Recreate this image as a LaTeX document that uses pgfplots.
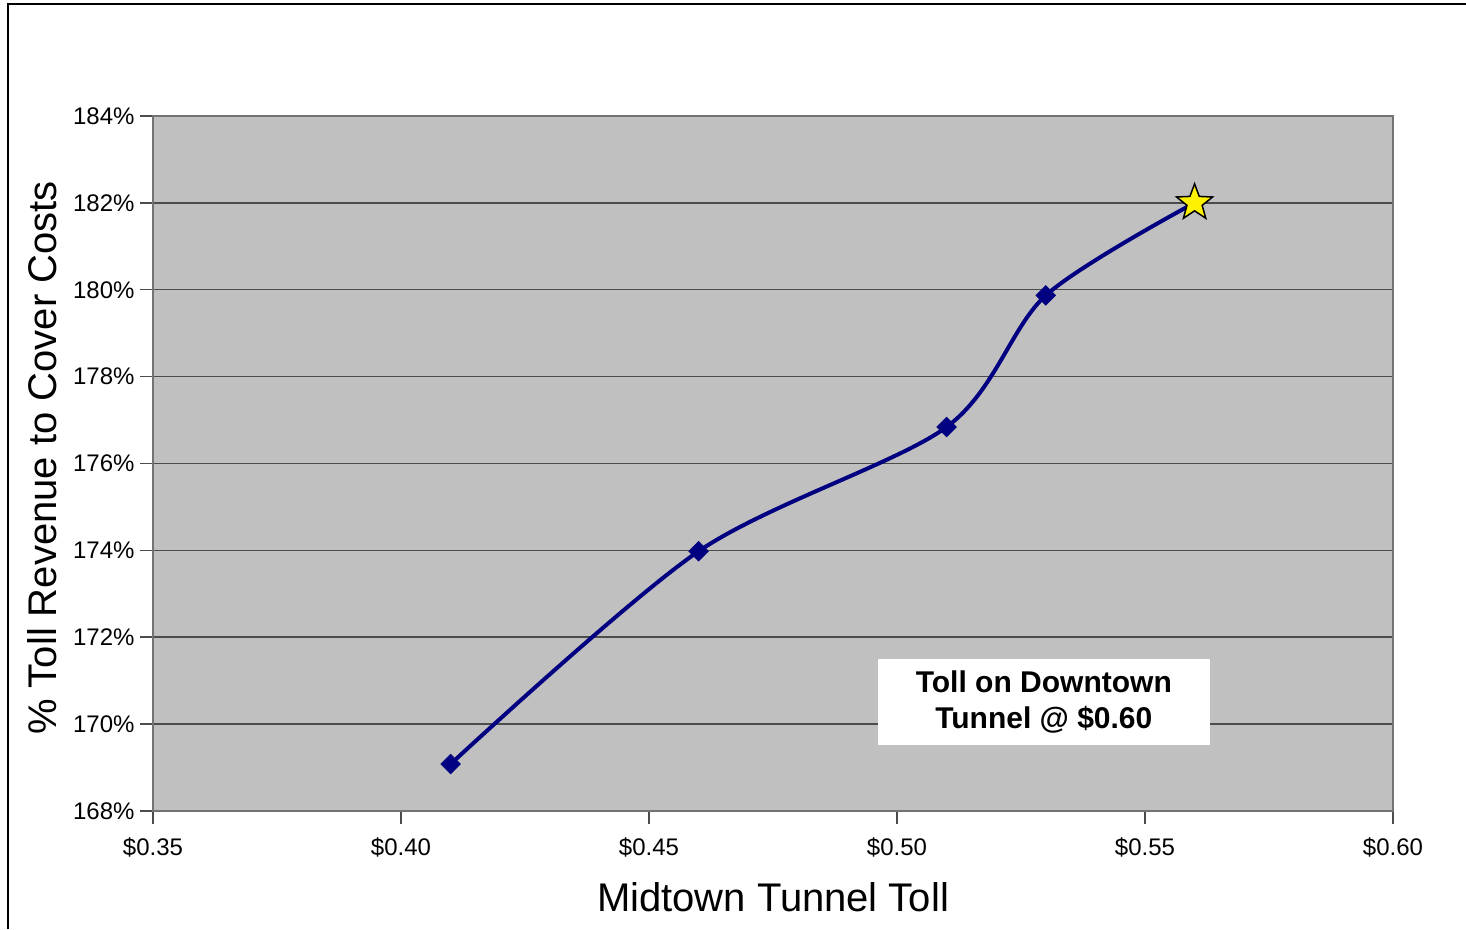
\documentclass[border=0pt]{standalone}
\usepackage{fontspec}
\setmainfont{Liberation Sans}
\usepackage{pgfplots}
\pgfplotsset{compat=1.18}
\definecolor{navyline}{HTML}{000080}
\definecolor{plotgray}{HTML}{C0C0C0}
\pgfdeclareplotmark{fstar}{%
  \pgfpathmoveto{\pgfpointpolar{90}{\pgfplotmarksize}}%
  \pgfpathlineto{\pgfpointpolar{126}{0.42\pgfplotmarksize}}%
  \pgfpathlineto{\pgfpointpolar{162}{\pgfplotmarksize}}%
  \pgfpathlineto{\pgfpointpolar{198}{0.42\pgfplotmarksize}}%
  \pgfpathlineto{\pgfpointpolar{234}{\pgfplotmarksize}}%
  \pgfpathlineto{\pgfpointpolar{270}{0.42\pgfplotmarksize}}%
  \pgfpathlineto{\pgfpointpolar{306}{\pgfplotmarksize}}%
  \pgfpathlineto{\pgfpointpolar{342}{0.42\pgfplotmarksize}}%
  \pgfpathlineto{\pgfpointpolar{18}{\pgfplotmarksize}}%
  \pgfpathlineto{\pgfpointpolar{54}{0.42\pgfplotmarksize}}%
  \pgfpathclose
  \pgfusepathqfillstroke}
\begin{document}
\begin{tikzpicture}[x=1pt,y=1pt]
\useasboundingbox (0,0) rectangle (1466,929);
\draw[line width=2pt] (7.5,0) -- (7.5,924.5) -- (1466,924.5);
\begin{axis}[
  at={(153pt,118pt)}, anchor=south west,
  scale only axis, width=1240pt, height=695pt,
  xmin=0.35, xmax=0.60, ymin=168, ymax=184,
  axis background/.style={fill=plotgray},
  axis line style={draw=black!55, line width=2pt},
  xtick={0.35,0.40,0.45,0.50,0.55,0.60},
  xticklabels={\$0.35,\$0.40,\$0.45,\$0.50,\$0.55,\$0.60},
  ytick={168,170,172,174,176,178,180,182,184},
  yticklabels={168\%,170\%,172\%,174\%,176\%,178\%,180\%,182\%,184\%},
  tick align=outside, major tick length=13pt,
  tick style={draw=black!70, line width=1.5pt},
  xtick pos=bottom, ytick pos=left,
  ymajorgrids, grid style={draw=black!70, line width=1.5pt},
  ticklabel style={font=\fontsize{24}{28}\selectfont},
  xticklabel style={yshift=-10pt},
  yticklabel style={xshift=-2pt},
  /pgf/number format/assume math mode=true,
  clip=false,
]
\addplot[navyline, line width=4pt, smooth, tension=0.5, mark=square*, mark size=7pt,
  mark options={fill=navyline, draw=navyline, line width=0.5pt, rotate=45}, mark indices={1,2,3,4}]
  coordinates {(0.41,169.08) (0.46,173.98) (0.51,176.84) (0.53,179.87) (0.56,182.0)};
\addplot[only marks, mark=fstar, mark size=19pt,
  mark options={fill=yellow, draw=black, line width=1.5pt}]
  coordinates {(0.56,182.0)};
\node[fill=white, minimum width=332pt, minimum height=86pt, inner sep=0pt,
  align=center, font=\fontsize{30}{36}\selectfont\bfseries]
  at (axis cs:0.5296,170.51) {Toll on Downtown\\Tunnel @ \$0.60};
\end{axis}
\node[font=\fontsize{40}{48}\selectfont] at (773,32) {Midtown Tunnel Toll};
\node[font=\fontsize{40}{48}\selectfont, rotate=90] at (42,471) {\% Toll Revenue to Cover Costs};
\end{tikzpicture}
\end{document}
